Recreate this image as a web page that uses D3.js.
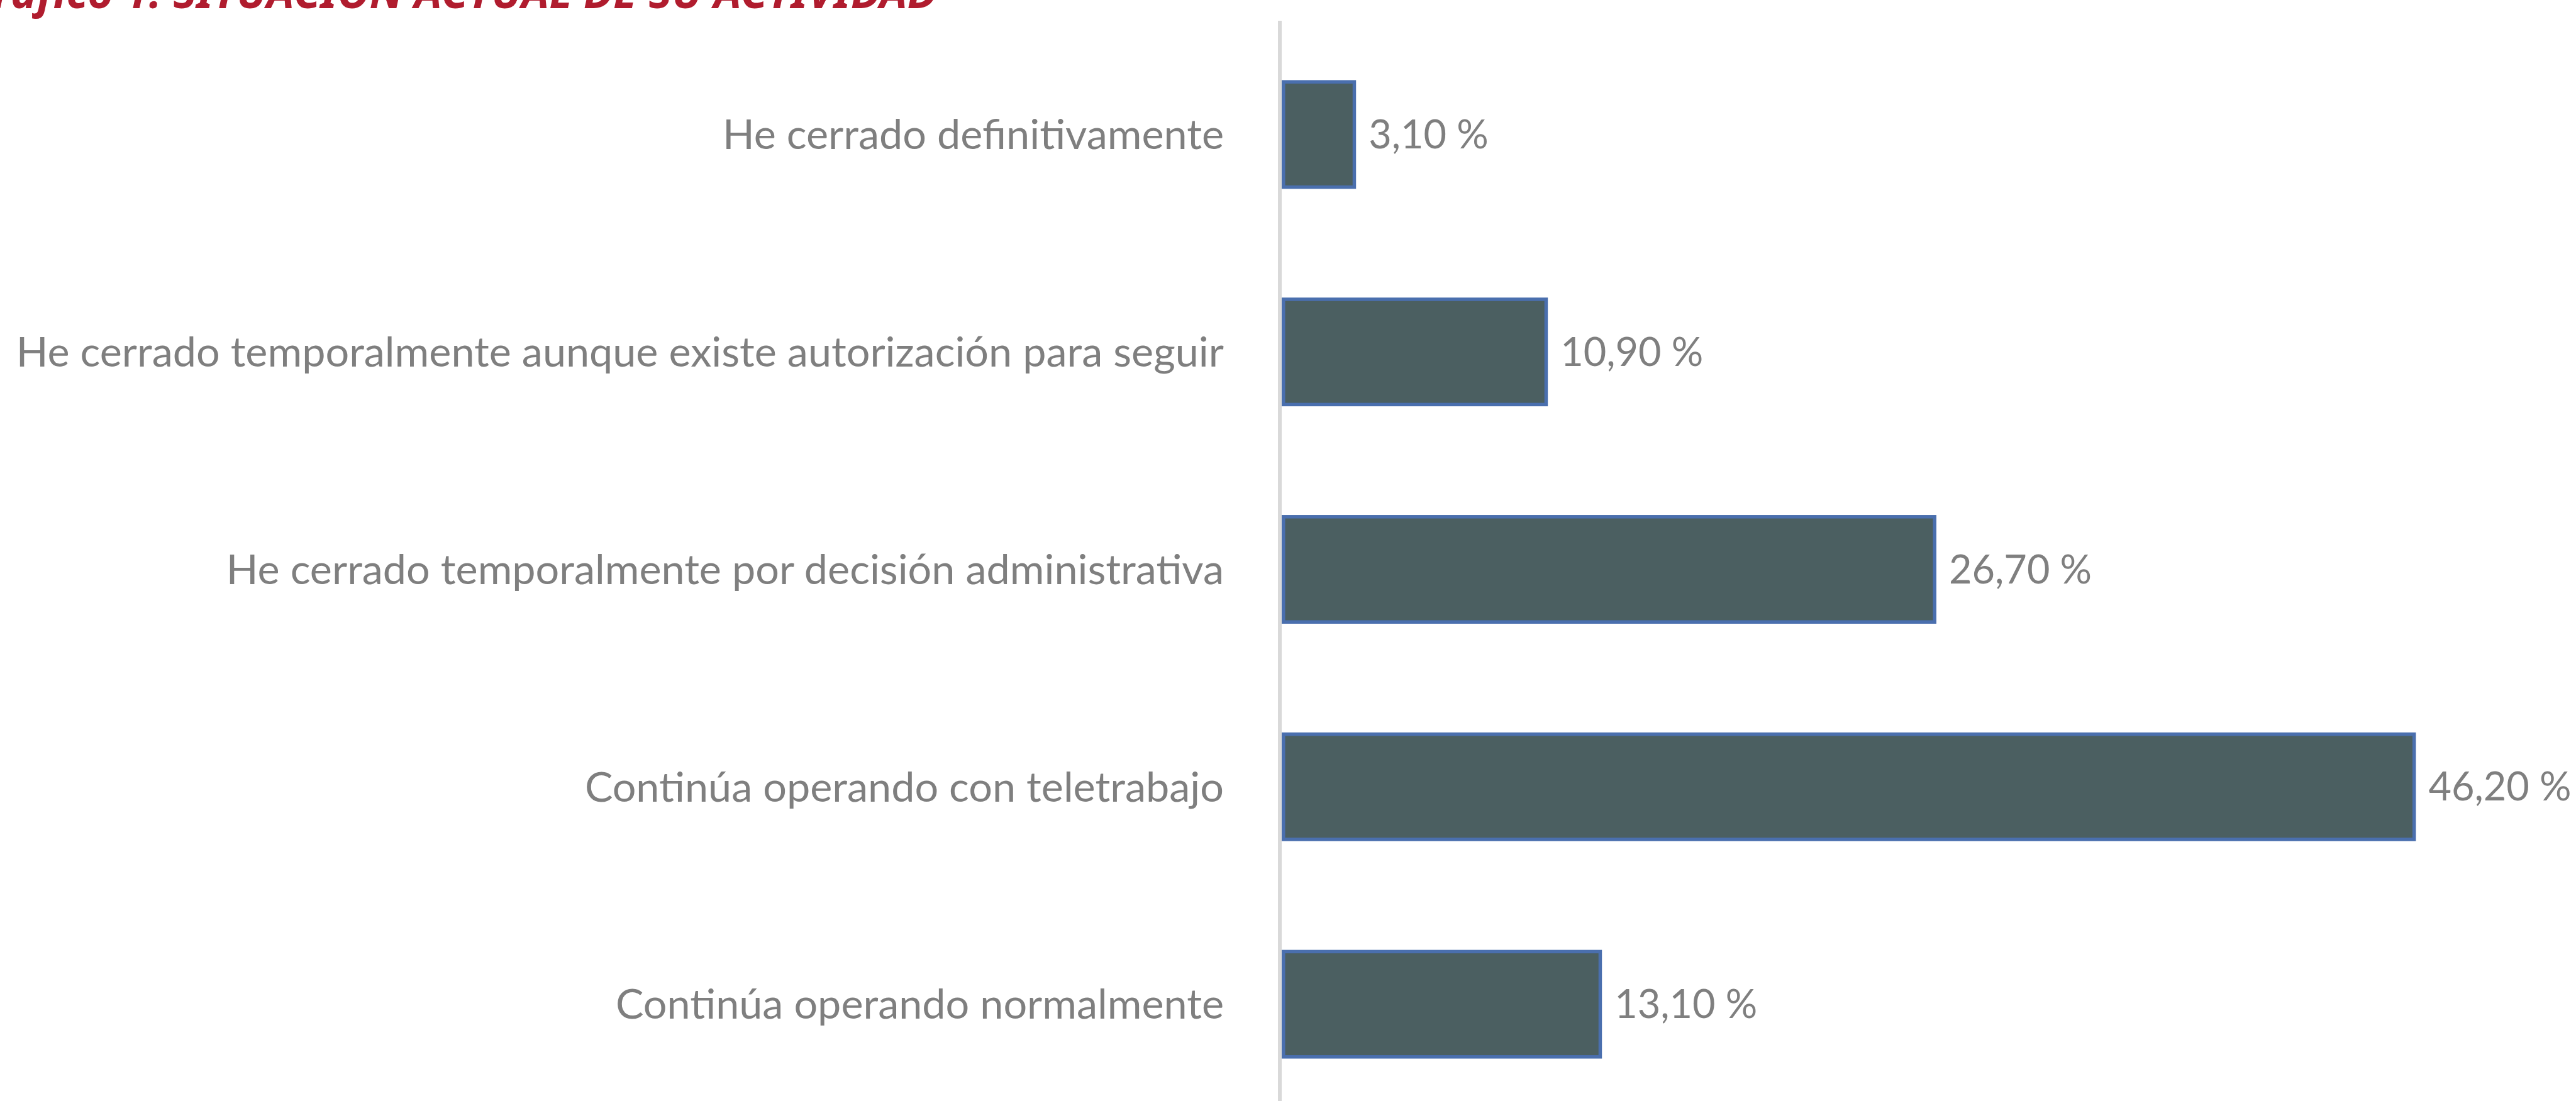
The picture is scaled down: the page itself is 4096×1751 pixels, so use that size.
<!DOCTYPE html>
<html>
<head>
<meta charset="utf-8">
<script src="https://cdn.jsdelivr.net/npm/d3@7"></script>
<style>
  html, body { margin: 0; padding: 0; background: #fff; overflow: hidden; }
  .cat text { font-family: Lato, "Noto Sans", sans-serif; fill: #7f7f7f; }
  .valueLabel { font-family: Lato, "Noto Sans", sans-serif; fill: #7f7f7f; }
  .title { font-family: "Noto Sans", sans-serif; font-weight: bold; font-style: italic; fill: #b01c2e; }
</style>
</head>
<body>
<div class="chart"></div>
<script>
var svgWidth = 4096;
var svgHeight = 1751;

// data, top to bottom
var categories = [
  "He cerrado definitivamente",
  "He cerrado temporalmente aunque existe autorización para seguir",
  "He cerrado temporalmente por decisión administrativa",
  "Continúa operando con teletrabajo",
  "Continúa operando normalmente"
];
var values = [3.1, 10.9, 26.7, 46.2, 13.1];
var valueLabels = ["3,10 %", "10,90 %", "26,70 %", "46,20 %", "13,10 %"];
var titleText = "Gráfico 1. SITUACIÓN ACTUAL DE SU ACTIVIDAD";

var axisX = 2035;

var svg = d3.select(".chart")
  .append("svg")
  .attr("width", svgWidth)
  .attr("height", svgHeight);

// scales
var xLinearScale = d3.scaleLinear().domain([0, 50]).range([axisX, axisX + 50 * 39.1]);
var yBand = d3.scaleBand()
  .domain(categories)
  .range([41, 1770])
  .paddingInner(0.5)
  .paddingOuter(0.25);

// title, partly cut off at the top like the source
svg.append("text")
  .attr("class", "title")
  .attr("x", 1490)
  .attr("y", 13)
  .attr("text-anchor", "end")
  .attr("font-size", 70)
  .text(titleText);

// vertical axis line
svg.append("line")
  .attr("x1", axisX)
  .attr("x2", axisX)
  .attr("y1", 33)
  .attr("y2", svgHeight)
  .attr("stroke", "#d9d9d9")
  .attr("stroke-width", 6);

// category labels
var yaxis = d3.axisLeft(yBand).tickSize(0).tickPadding(89);
var catAxis = svg.append("g")
  .attr("class", "cat")
  .attr("transform", `translate(${axisX}, 0)`)
  .call(yaxis);
catAxis.select(".domain").remove();
catAxis.selectAll("text").attr("font-size", 66.5).attr("dy", "0.35em");

// bars
var sw = 5.5;
svg.selectAll("rect.bar")
  .data(values)
  .enter()
  .append("rect")
  .attr("class", "bar")
  .attr("x", xLinearScale(0) + 3 + sw / 2)
  .attr("y", (d, i) => yBand(categories[i]) + sw / 2)
  .attr("width", d => xLinearScale(d) - xLinearScale(0) - 3 - sw)
  .attr("height", yBand.bandwidth() - sw)
  .attr("fill", "#4b5f61")
  .attr("stroke", "#4a6fae")
  .attr("stroke-width", sw);

// value labels
svg.selectAll("text.valueLabel")
  .data(values)
  .enter()
  .append("text")
  .attr("class", "valueLabel")
  .attr("x", d => xLinearScale(d) + 20)
  .attr("y", (d, i) => yBand(categories[i]) + yBand.bandwidth() / 2)
  .attr("dy", "0.35em")
  .attr("font-size", 63)
  .text((d, i) => valueLabels[i]);
</script>
</body>
</html>
